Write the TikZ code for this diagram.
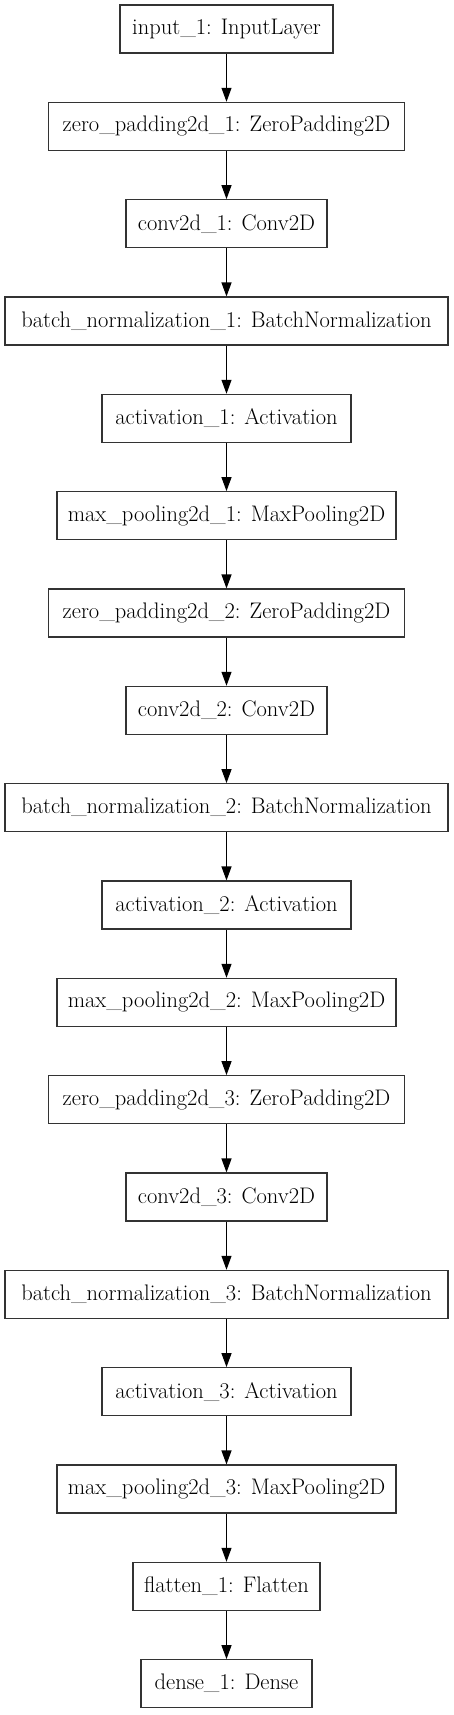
\documentclass[tikz,border=0pt]{standalone}
\usetikzlibrary{arrows.meta}
\begin{document}
\begin{tikzpicture}[x=1pt,y=1pt,
  layer/.style={draw=black!80, line width=1.1pt, rectangle, minimum height=48pt, inner sep=0pt, font=\fontsize{22.5}{26}\selectfont},
  flow/.style={line width=1.1pt, -{Triangle[length=14pt,width=10pt]}}]
\useasboundingbox (0,0) rectangle (453,-1715);
\def\cx{226.5}
\node[layer, minimum width=213pt] (n1) at (\cx,-29) {input\_1: InputLayer};
\node[layer, minimum width=356pt] (n2) at (\cx,-126.33) {zero\_padding2d\_1: ZeroPadding2D};
\node[layer, minimum width=201pt] (n3) at (\cx,-223.67) {conv2d\_1: Conv2D};
\node[layer, minimum width=443pt] (n4) at (\cx,-321) {batch\_normalization\_1: BatchNormalization};
\node[layer, minimum width=249pt] (n5) at (\cx,-418.33) {activation\_1: Activation};
\node[layer, minimum width=339pt] (n6) at (\cx,-515.67) {max\_pooling2d\_1: MaxPooling2D};
\node[layer, minimum width=356pt] (n7) at (\cx,-613) {zero\_padding2d\_2: ZeroPadding2D};
\node[layer, minimum width=201pt] (n8) at (\cx,-710.33) {conv2d\_2: Conv2D};
\node[layer, minimum width=443pt] (n9) at (\cx,-807.67) {batch\_normalization\_2: BatchNormalization};
\node[layer, minimum width=249pt] (n10) at (\cx,-905) {activation\_2: Activation};
\node[layer, minimum width=339pt] (n11) at (\cx,-1002.33) {max\_pooling2d\_2: MaxPooling2D};
\node[layer, minimum width=356pt] (n12) at (\cx,-1099.67) {zero\_padding2d\_3: ZeroPadding2D};
\node[layer, minimum width=201pt] (n13) at (\cx,-1197) {conv2d\_3: Conv2D};
\node[layer, minimum width=443pt] (n14) at (\cx,-1294.33) {batch\_normalization\_3: BatchNormalization};
\node[layer, minimum width=249pt] (n15) at (\cx,-1391.67) {activation\_3: Activation};
\node[layer, minimum width=339pt] (n16) at (\cx,-1489) {max\_pooling2d\_3: MaxPooling2D};
\node[layer, minimum width=187pt] (n17) at (\cx,-1586.33) {flatten\_1: Flatten};
\node[layer, minimum width=171pt] (n18) at (\cx,-1683.67) {dense\_1: Dense};
\foreach \a/\b in {n1/n2,n2/n3,n3/n4,n4/n5,n5/n6,n6/n7,n7/n8,n8/n9,n9/n10,n10/n11,n11/n12,n12/n13,n13/n14,n14/n15,n15/n16,n16/n17,n17/n18}
  \draw[flow] (\a.south) -- (\b.north);
\end{tikzpicture}
\end{document}
